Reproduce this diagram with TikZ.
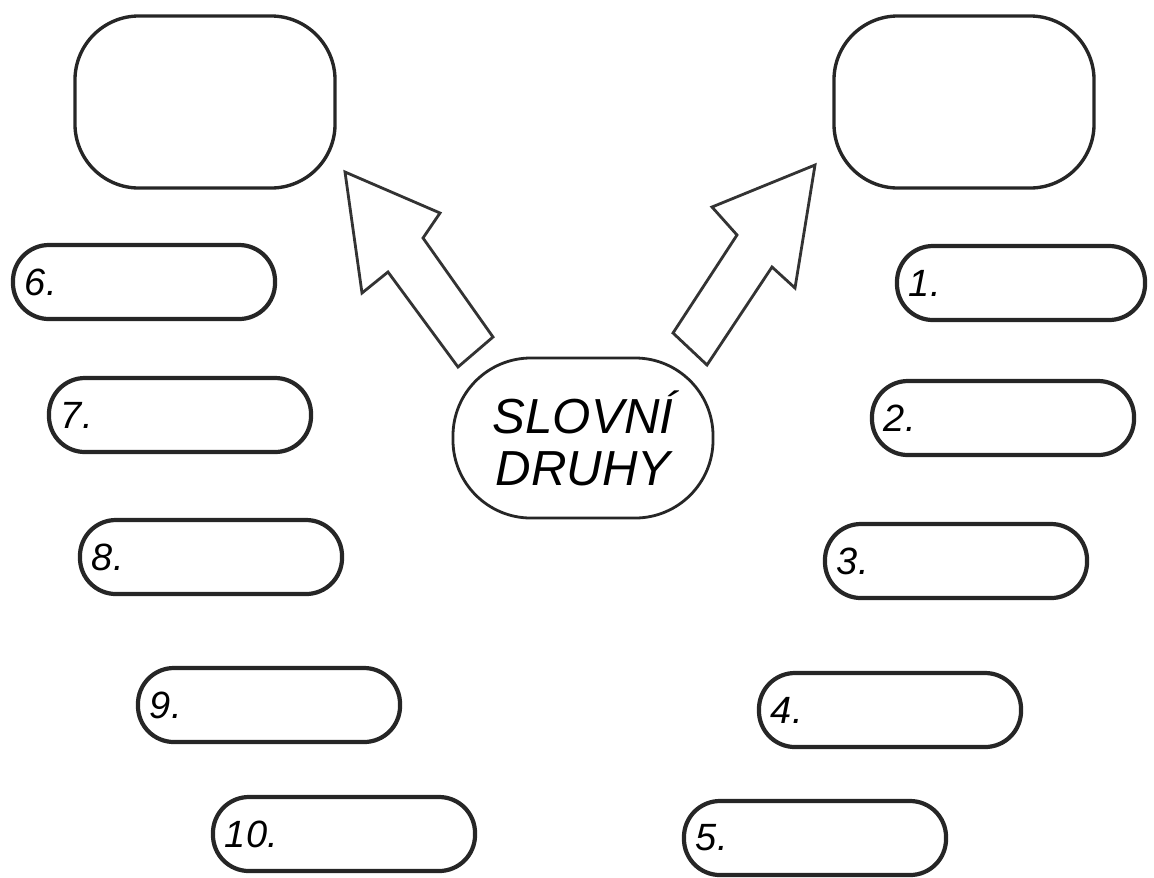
\documentclass[tikz,border=0pt]{standalone}
\usepackage{fontspec}
\setmainfont{Liberation Sans}
\usepackage{tikz}
\usetikzlibrary{shapes,positioning}

\begin{document}
\begin{tikzpicture}[
    x=0.025cm, y=-0.025cm,
    bigbox/.style={rectangle, rounded corners=1.6cm, draw=black!85, line width=2.4pt, minimum width=6.5cm, minimum height=4.3cm},
    pill/.style={rectangle, rounded corners=0.9cm, draw=black!85, line width=3pt, minimum width=6.55cm, minimum height=1.85cm, text width=5.95cm, inner xsep=0.3cm, align=left, font=\fontsize{27}{30}\selectfont\itshape},
    centre/.style={rectangle, rounded corners=1.95cm, draw=black!85, line width=2pt, minimum width=6.5cm, minimum height=4cm, align=center, font=\fontsize{35}{37}\selectfont\itshape},
    fatarrow/.style={draw=black!80, line width=2pt, line join=miter, fill=white}
]
    \useasboundingbox (0,0) rectangle (1154,877);

    \node[bigbox] (leftgoal) at (205,102) {};
    \node[bigbox] (rightgoal) at (964,102) {};

    \node[centre] (topic) at (583,438) {SLOVNÍ\\DRUHY};

    \draw[fatarrow] (345,172) -- (440,213) -- (423,238) -- (493,337) -- (458,367) -- (388,272) -- (362,293) -- cycle;
    \draw[fatarrow] (815,165) -- (795,288) -- (772,267) -- (707,365) -- (673,333) -- (737,235) -- (712,207) -- cycle;

    \node[pill, minimum width=6.2cm, text width=5.6cm] (one) at (1021,283) {1.};
    \node[pill] (two) at (1003,418) {2.};
    \node[pill] (three) at (956,561) {3.};
    \node[pill] (four) at (890,710) {4.};
    \node[pill] (five) at (815,838) {5.};

    \node[pill] (six) at (144,282) {6.};
    \node[pill] (seven) at (180,415) {7.};
    \node[pill] (eight) at (211,557) {8.};
    \node[pill] (nine) at (269,705) {9.};
    \node[pill] (ten) at (344,834) {10.};
\end{tikzpicture}
\end{document}
